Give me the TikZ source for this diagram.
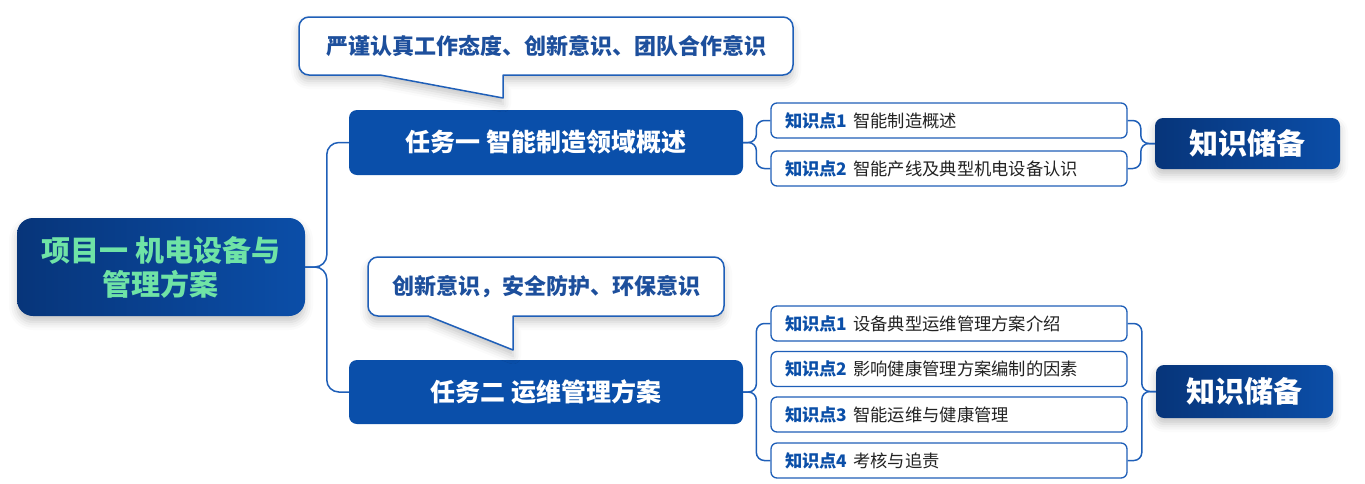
\documentclass[tikz,border=0pt]{standalone}
\usepackage{fontspec}
\setmainfont{Noto Sans CJK SC}
\usetikzlibrary{calc,shadows.blur}
\definecolor{conn}{HTML}{1F5FB8}
\definecolor{taskblue}{HTML}{0A4FAA}
\definecolor{navyA}{HTML}{07357A}
\definecolor{navyB}{HTML}{0B4EA8}
\definecolor{calltxt}{HTML}{1D4F9C}
\definecolor{greentxt}{HTML}{6FE3A6}
\definecolor{kblue}{HTML}{0B4FA8}
\definecolor{ktxt}{HTML}{222222}
\tikzset{
  connector/.style={draw=conn, line width=1.5pt},
  navybox/.style={left color=navyA, right color=navyB, rounded corners=12pt, inner sep=0pt,
     blur shadow={shadow xshift=0pt, shadow yshift=-6pt, shadow blur radius=8pt, shadow opacity=22}},
  taskbox/.style={fill=taskblue, rounded corners=8pt, minimum width=394pt, minimum height=65pt,
     inner sep=0pt, text=white, font=\bfseries\fontsize{25}{28}\selectfont},
  kbox/.style={draw=conn, line width=1.3pt, fill=white, rounded corners=6pt, minimum height=35pt,
     text width=328pt, inner xsep=14pt, inner ysep=0pt, align=left, text=ktxt,
     font=\fontsize{17.3}{19}\selectfont},
  storebox/.style={navybox, rounded corners=8pt, text=white, font=\bfseries\fontsize{29}{32}\selectfont},
  callout/.style={draw=conn, line width=1.5pt, fill=white, line join=round,
     blur shadow={shadow xshift=0pt, shadow yshift=-6pt, shadow blur radius=8pt, shadow opacity=22}},
  calltext/.style={text=calltxt, font=\bfseries\fontsize{22}{24}\selectfont, inner sep=0pt},
}
\newcommand{\kp}[2]{{\bfseries\color{kblue}知识点#1} #2}
\begin{document}
\begin{tikzpicture}[x=1pt,y=-1pt]
\useasboundingbox (0,0) rectangle (1365,483);
% main
\node[navybox, minimum width=288pt, minimum height=98pt, rounded corners=16pt, text=greentxt,
  align=center, font=\bfseries\fontsize{29}{34}\selectfont] (main) at (161,267)
  {项目一 机电设备与\\管理方案};
% tasks
\node[taskbox] (t1) at (546,142.5) {任务一 智能制造领域概述};
\node[taskbox, minimum height=64pt] (t2) at (546,392) {任务二 运维管理方案};
% callouts
\draw[callout, rounded corners=10pt] (380,75) -- (299,75) -- (299,17) -- (793,17) -- (793,75) [sharp corners] -- (503,75) -- (503,98) -- cycle;
\node[calltext] (c1) at (546,46) {严谨认真工作态度、创新意识、团队合作意识};
\draw[callout, rounded corners=10pt] (428,316) -- (368,316) -- (368,257) -- (724,257) -- (724,316) [sharp corners] -- (513,316) -- (513,350) -- cycle;
\node[calltext] (c2) at (546,287) {创新意识，安全防护、环保意识};
% knowledge boxes group 1
\node[kbox] (k11) at (949,120.5) {\kp{1}{智能制造概述}};
\node[kbox] (k12) at (949,168.5) {\kp{2}{智能产线及典型机电设备认识}};
% group 2
\node[kbox] (k21) at (949,323.5) {\kp{1}{设备典型运维管理方案介绍}};
\node[kbox] (k22) at (949,369) {\kp{2}{影响健康管理方案编制的因素}};
\node[kbox] (k23) at (949,414.5) {\kp{3}{智能运维与健康管理}};
\node[kbox] (k24) at (949,460.5) {\kp{4}{考核与追责}};
% store boxes
\node[storebox, minimum width=185pt, minimum height=51pt] (s1) at (1247.5,143.5) {知识储备};
\node[storebox, minimum width=177pt, minimum height=53pt] (s2) at (1244.5,391.5) {知识储备};
% connectors
\begin{scope}[rounded corners=12pt]
\draw[connector] (main.east) -| ($(t1.west)+(-22,0)$) -- (t1.west);
\draw[connector] (main.east) -| ($(t2.west)+(-22,0)$) -- (t2.west);
\end{scope}
\begin{scope}[rounded corners=8pt]
\draw[connector] (t1.east) -| ($(k11.west)+(-14,0)$) -- (k11.west);
\draw[connector] (t1.east) -| ($(k12.west)+(-14,0)$) -- (k12.west);
\draw[connector] (k11.east) -| ($(s1.west)+(-14,0)$) -- (s1.west);
\draw[connector] (k12.east) -| ($(s1.west)+(-14,0)$) -- (s1.west);
\draw[connector] (t2.east) -| ($(k21.west)+(-14,0)$) -- (k21.west);
\draw[connector] (t2.east) -| ($(k24.west)+(-14,0)$) -- (k24.west);
\draw[connector] (k21.east) -| ($(s2.west)+(-14,0)$) -- (s2.west);
\draw[connector] (k24.east) -| ($(s2.west)+(-14,0)$) -- (s2.west);
\end{scope}
\end{tikzpicture}
\end{document}
